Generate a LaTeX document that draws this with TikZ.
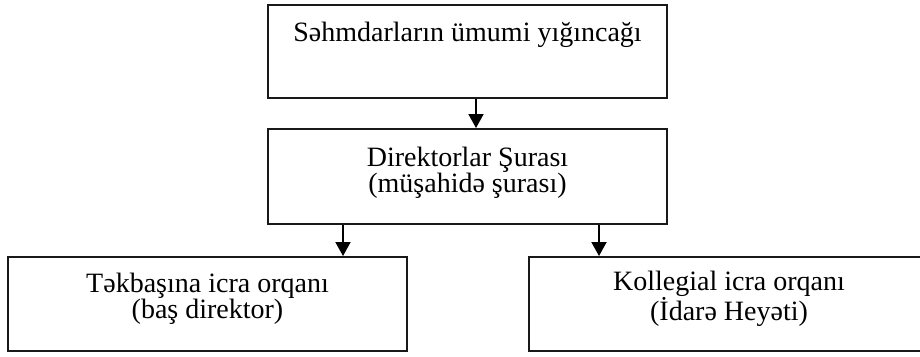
\documentclass[tikz,border=0pt]{standalone}
\usepackage{fontspec}
\setmainfont{Liberation Serif}
\usetikzlibrary{arrows.meta,calc}
\begin{document}
\begin{tikzpicture}[x=1pt,y=-1pt,
  box/.style={draw=black!90,line width=2pt,inner sep=0pt},
  txt/.style={inner sep=0pt,align=center,font=\fontsize{28}{26}\selectfont},
  arr/.style={line width=2pt,-{Triangle[width=15pt,length=14pt]}}]
\useasboundingbox (0,0) rectangle (920,356);
% frames
\node[box,minimum width=399,minimum height=93] (gm) at (467.5,51.5) {};
\node[box,minimum width=399,minimum height=95] (bd) at (467.5,176.5) {};
\node[box,minimum width=399,minimum height=94] (ceo) at (207.5,304) {};
\node[box,minimum width=400,minimum height=94] (board) at (729,304) {};
% captions
\node[txt,yshift=17pt] (gmt) at (gm.center) {Səhmdarların ümumi yığıncağı};
\node[txt,yshift=4pt] (bdt) at (bd.center) {Direktorlar Şurası\\(müşahidə şurası)};
\node[txt,yshift=5.5pt] (ceot) at (ceo.center) {Təkbaşına icra orqanı\\(baş direktor)};
\node[txt,yshift=5.5pt] (boardt) at (board.center) {Kollegial icra orqanı\\(İdarə Heyəti)};
% connectors
\coordinate (c1) at (476,0);
\coordinate (c2) at (343,0);
\coordinate (c3) at (599,0);
\draw[arr] (gm.south -| c1) -- (bd.north -| c1);
\draw[arr] (bd.south -| c2) -- (ceo.north -| c2);
\draw[arr] (bd.south -| c3) -- (board.north -| c3);
\end{tikzpicture}
\end{document}
